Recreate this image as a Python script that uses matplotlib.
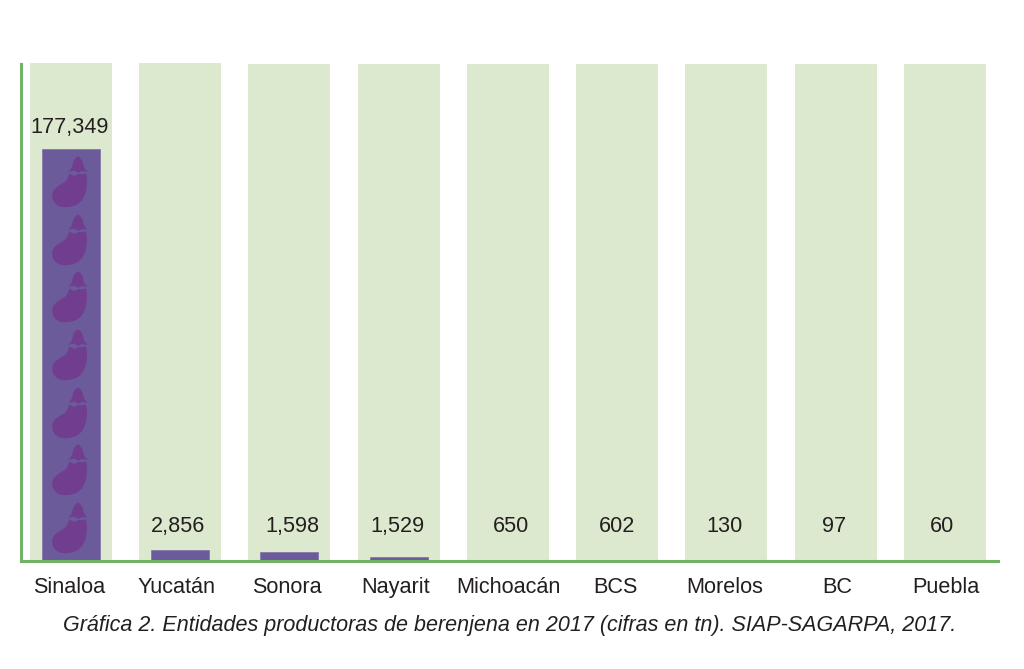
import numpy as np
import matplotlib
matplotlib.use('Agg')
import matplotlib.pyplot as plt
from matplotlib.path import Path

estados = ['Sinaloa', 'Yucatán', 'Sonora', 'Nayarit', 'Michoacán', 'BCS', 'Morelos', 'BC', 'Puebla']
etiquetas = ['177,349', '2,856', '1,598', '1,529', '650', '602', '130', '97', '60']
# bar heights as drawn in the picture (% of the pale column), not to scale with the labels
alturas = [82.9, 2.2, 1.8, 0.8, 0, 0, 0, 0, 0]
fondo = [100.2, 100.2, 100, 100, 100, 100, 100, 100, 100]
n_iconos = 7

plt.rcParams['font.family'] = ['Liberation Sans', 'DejaVu Sans']

fig = plt.figure(figsize=(10.24, 6.69), dpi=100)
ax = fig.add_axes([20.6 / 1024, 1 - 561 / 669, (998 - 20.6) / 1024, 497 / 669])

x = np.arange(len(estados))
paso = 109.25
ax.set_xlim(-50.2 / paso, 927.2 / paso)
ax.set_ylim(0, 100)

ax.bar(x, fondo, width=82 / paso, color='#dde9cf', clip_on=False, zorder=1)
ax.bar(x, alturas, width=58 / paso, color='#6b5b9a', edgecolor='#7d6fa8', linewidth=0.5, zorder=2)

# eggplant icon drawn in pixel offsets, body + cap
M, C, Z = Path.MOVETO, Path.CURVE4, Path.CLOSEPOLY
cuerpo = Path([
    (-1, 8), (2, 7), (3, 5.5), (5, 6),
    (7, 6.5), (8, 8), (10, 7.5),
    (12, 7), (14, 8), (16, 8),
    (18.5, 0), (17, -14), (11, -20),
    (7, -25), (0, -26), (-6, -26),
    (-13, -26), (-18, -21), (-18, -14),
    (-18, -7), (-11, -4), (-6, -1),
    (-3, 1), (-2, 4), (-1, 8),
    (-1, 8),
], [M] + [C] * 24 + [Z])
copa = Path([
    (8, 25.5), (12, 23), (13, 20), (13.5, 17),
    (14, 14), (15, 12), (18, 10),
    (14, 10), (12, 11.5), (10, 9.5),
    (8.5, 8), (7, 9.5), (5.5, 10.5),
    (4, 11.5), (1, 10), (-2, 10),
    (1, 12), (2, 14), (2.5, 17),
    (3, 20), (4, 23), (8, 25.5),
    (8, 25.5),
], [M] + [C] * 21 + [Z])
icono = Path.make_compound_path(cuerpo, copa)
icono = Path(icono.vertices + np.array([-1.5, 0.0]), icono.codes)

centros = 6.84 + np.arange(n_iconos) * 11.6
ax.plot(np.zeros(n_iconos), centros, linestyle='none', marker=icono, markersize=37,
        markerfacecolor='#713e8f', markeredgewidth=0, zorder=3)

# label positions shift a little from the bar centres in the original
off_val = [-1.5, -1.5, 3.5, -1.5, 3, 0, -1.5, -1, -3]
y_val = [87.2, 6.9, 6.9, 6.9, 6.9, 6.9, 6.9, 6.9, 6.9]
for i, txt in enumerate(etiquetas):
    ax.text(x[i] + off_val[i] / paso, y_val[i], txt, ha='center', va='center', fontsize=15.6, color='#231f20', zorder=4)

off_cat = [-1.5, -3.5, -2, -3, 1, -2, -1.5, 1.5, 1]
for i, txt in enumerate(estados):
    ax.text(x[i] + off_cat[i] / paso, -5.3, txt, ha='center', va='center', fontsize=15.6, color='#231f20')

for s in ['top', 'right']:
    ax.spines[s].set_visible(False)
for s in ['left', 'bottom']:
    ax.spines[s].set_color('#72b266')
    ax.spines[s].set_linewidth(2.2)
    ax.spines[s].set_zorder(5)
ax.set_xticks([])
ax.set_yticks([])

fig.text(509.5 / 1024, 1 - 625.5 / 669, 'Gráfica 2. Entidades productoras de berenjena en 2017 (cifras en tn). SIAP-SAGARPA, 2017.',
         ha='center', va='center', fontsize=15.5, style='italic', color='#231f20')

fig.savefig('out.png', dpi=100)
